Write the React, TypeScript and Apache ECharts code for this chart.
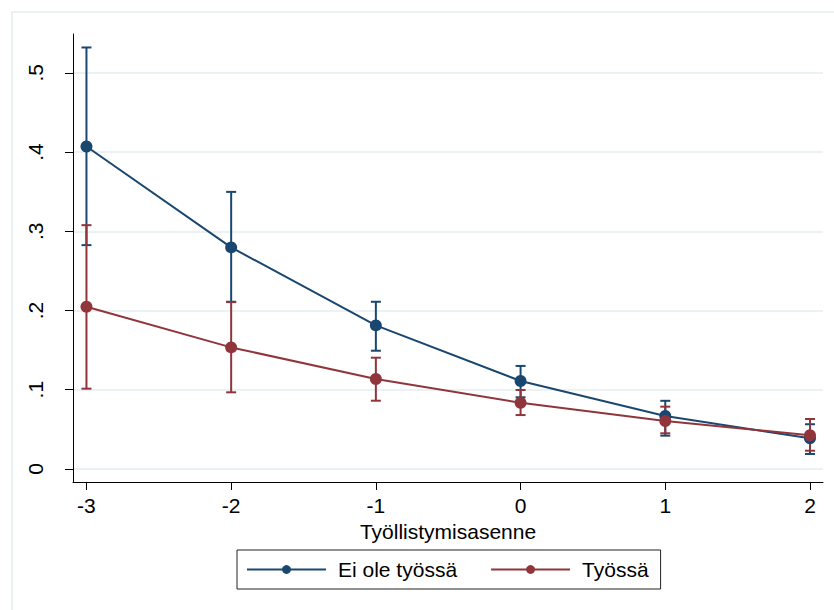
import React, { useEffect, useRef } from "react";
import * as echarts from "echarts";

const xValues = [-3, -2, -1, 0, 1, 2];
const xTicks = [-3, -2, -1, 0, 1, 2];
const yTicks = [0, 0.1, 0.2, 0.3, 0.4, 0.5];

const eiOleMean = [0.407, 0.2796, 0.1812, 0.111, 0.0668, 0.0387];
const eiOleLow = [0.2825, 0.211, 0.1492, 0.0904, 0.042, 0.0189];
const eiOleHigh = [0.532, 0.3497, 0.211, 0.13, 0.086, 0.0564];

const tyossaMean = [0.2047, 0.1534, 0.1135, 0.0836, 0.0605, 0.0425];
const tyossaLow = [0.1013, 0.0967, 0.0861, 0.068, 0.045, 0.023];
const tyossaHigh = [0.3077, 0.2106, 0.1404, 0.0996, 0.0786, 0.063];

const seriesNames = ["Ei ole työssä", "Työssä"];
const xTitle = "Työllistymisasenne";

const BLUE = "#1a476f";
const RED = "#90353b";
const FONT = "Liberation Sans, Arial, sans-serif";
const FS = 21;

function errorBars(name: string, low: number[], high: number[], color: string, z: number) {
  return {
    type: "custom",
    name: name + " CI",
    silent: true,
    z,
    data: xValues.map((x, i) => [x, low[i], high[i]]),
    renderItem: (_params: any, api: any) => {
      const x = api.value(0);
      const lo = api.coord([x, api.value(1)]);
      const hi = api.coord([x, api.value(2)]);
      const hw = 5;
      const style = { stroke: color, lineWidth: 2 };
      return {
        type: "group",
        children: [
          { type: "line", shape: { x1: lo[0], y1: lo[1], x2: hi[0], y2: hi[1] }, style },
          { type: "line", shape: { x1: lo[0] - hw, y1: lo[1], x2: lo[0] + hw, y2: lo[1] }, style },
          { type: "line", shape: { x1: hi[0] - hw, y1: hi[1], x2: hi[0] + hw, y2: hi[1] }, style },
        ],
      };
    },
  };
}

export default function App() {
  const ref = useRef<HTMLDivElement>(null);
  useEffect(() => {
    if (!ref.current) return;
    const chart = echarts.init(ref.current, undefined, { renderer: "svg" });
    chart.setOption({
      animation: false,
      backgroundColor: "#ffffff",
      textStyle: { fontFamily: FONT },
      grid: { left: 73, right: 11, top: 34, bottom: 128, containLabel: false },
      graphic: [
        {
          type: "rect",
          shape: { x: 12, y: 12, width: 900, height: 700 },
          style: { fill: "none", stroke: "#e4edf0", lineWidth: 1.5 },
          silent: true,
          z: -1,
        },
      ],
      legend: {
        left: 237,
        top: 550,
        orient: "horizontal",
        data: seriesNames,
        padding: [9, 12, 9, 9],
        borderColor: "#222",
        borderWidth: 1,
        itemWidth: 79,
        itemHeight: 11,
        itemGap: 33,
        textStyle: { fontSize: FS, color: "#000", fontFamily: FONT, padding: [0, 0, 0, 7] },
      },
      xAxis: {
        type: "value",
        min: -3.093,
        max: 2.09,
        name: xTitle,
        nameLocation: "middle",
        nameGap: 34,
        nameTextStyle: { fontSize: FS, color: "#000", fontFamily: FONT },
        axisLine: { show: true, onZero: false, lineStyle: { color: "#000", width: 1 } },
        axisTick: { show: true, length: 8, customValues: xTicks, lineStyle: { color: "#000" } },
        axisLabel: { customValues: xTicks, fontSize: FS, color: "#000", margin: 13, fontFamily: FONT },
        splitLine: { show: false },
      },
      yAxis: {
        type: "value",
        min: -0.0165,
        max: 0.549,
        axisLine: { show: true, onZero: false, lineStyle: { color: "#000", width: 1 } },
        axisTick: { show: true, length: 8, customValues: yTicks, lineStyle: { color: "#000" } },
        axisLabel: {
          customValues: yTicks,
          rotate: 90,
          fontSize: FS,
          color: "#000",
          margin: 27,
          fontFamily: FONT,
          formatter: (v: number) => (v === 0 ? "0" : String(Math.round(v * 10) / 10).replace(/^0/, "")),
        },
        splitLine: { show: false },
      },
      series: [
        {
          type: "line",
          name: "grid",
          data: [],
          z: 0,
          silent: true,
          markLine: {
            silent: true,
            z: 0,
            symbol: "none",
            label: { show: false },
            emphasis: { disabled: true },
            lineStyle: { color: "#eaf2f3", width: 2, type: "solid" },
            data: yTicks.map((v) => ({ yAxis: v })),
          },
        },
        errorBars(seriesNames[0], eiOleLow, eiOleHigh, BLUE, 3),
        errorBars(seriesNames[1], tyossaLow, tyossaHigh, RED, 3),
        {
          type: "line",
          name: seriesNames[0],
          z: 4,
          data: xValues.map((x, i) => [x, eiOleMean[i]]),
          symbol: "circle",
          symbolSize: 12,
          showAllSymbol: true,
          itemStyle: { color: BLUE },
          lineStyle: { color: BLUE, width: 2 },
        },
        {
          type: "line",
          name: seriesNames[1],
          z: 5,
          data: xValues.map((x, i) => [x, tyossaMean[i]]),
          symbol: "circle",
          symbolSize: 12,
          showAllSymbol: true,
          itemStyle: { color: RED },
          lineStyle: { color: RED, width: 2 },
        },
      ],
    });
    return () => chart.dispose();
  }, []);
  return <div ref={ref} style={{ width: 834, height: 610, position: "absolute", left: 0, top: 0 }} />;
}
